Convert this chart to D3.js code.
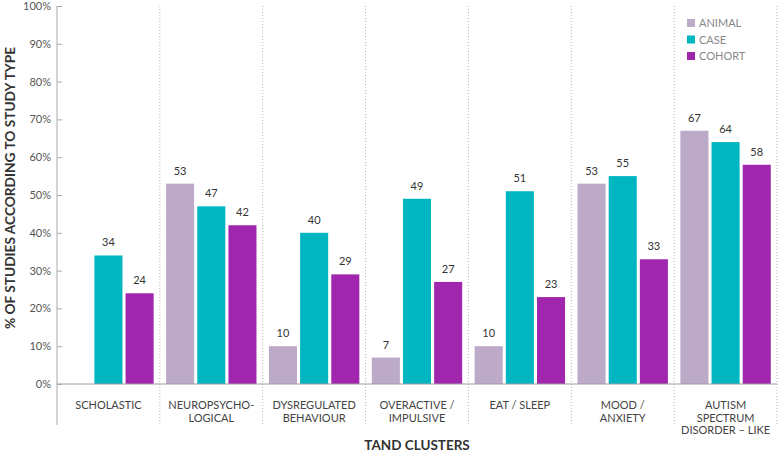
<!DOCTYPE html>
<html>
<head>
<meta charset="utf-8">
<script src="https://cdn.jsdelivr.net/npm/d3@7"></script>
<style>
  body { margin: 0; background: #fff; }
  svg text { font-family: Lato, "Open Sans", sans-serif; }
</style>
</head>
<body>
<svg id="chart" width="780" height="452"></svg>
<script>
var clusters = [
  ["SCHOLASTIC"],
  ["NEUROPSYCHO-", "LOGICAL"],
  ["DYSREGULATED", "BEHAVIOUR"],
  ["OVERACTIVE /", "IMPULSIVE"],
  ["EAT / SLEEP"],
  ["MOOD /", "ANXIETY"],
  ["AUTISM", "SPECTRUM", "DISORDER \u2013 LIKE"]
]
var studyTypes = ["ANIMAL", "CASE", "COHORT"]
var animal = [null, 53, 10, 7, 10, 53, 67]
var caseStudies = [34, 47, 40, 49, 51, 55, 64]
var cohort = [24, 42, 29, 27, 23, 33, 58]
var yTicks = [0, 10, 20, 30, 40, 50, 60, 70, 80, 90, 100]
var colors = ["#bcaac8", "#00b6c1", "#a126ae"]

var dimensions = ({
  width: 780,
  height: 452,
  margin: { top: 6, bottom: 68, right: 3, left: 57 }
})
var innerW = dimensions.width - dimensions.margin.left - dimensions.margin.right
var innerH = dimensions.height - dimensions.margin.top - dimensions.margin.bottom

var series = [animal, caseStudies, cohort]
var data = clusters.map(function (c, i) {
  return {
    key: i,
    values: studyTypes.map(function (t, j) { return { type: t, j: j, v: series[j][i] } })
  }
})

var svg = d3.select("#chart")
var g = svg.append("g")
  .attr("transform", "translate(" + dimensions.margin.left + "," + dimensions.margin.top + ")")

var xScale = d3.scaleBand()
  .domain(d3.range(clusters.length))
  .range([0, innerW])
  .padding(0)

var x1 = d3.scaleBand()
  .domain(studyTypes)
  .range([0, xScale.bandwidth()])
  .paddingInner(0.1)
  .paddingOuter(0.2)

var yScale = d3.scaleLinear()
  .domain([0, 100])
  .range([innerH, 0])

// dotted separators
g.selectAll(".sep")
  .data(d3.range(1, clusters.length + 1))
  .enter()
  .append("line")
  .attr("x1", function (d) { return d * xScale.step() })
  .attr("x2", function (d) { return d * xScale.step() })
  .attr("y1", 0)
  .attr("y2", innerH + 41)
  .attr("stroke", "#b5b5b5")
  .attr("stroke-width", 1)
  .attr("stroke-dasharray", "1,2")

// bars
var groups = g.selectAll(".grp")
  .data(data)
  .enter()
  .append("g")
  .attr("transform", function (d) { return "translate(" + xScale(d.key) + ",0)" })

var vals = groups.selectAll("g")
  .data(function (d) { return d.values.filter(function (v) { return v.v != null }) })
  .enter()
  .append("g")

vals.append("rect")
  .attr("x", function (d) { return x1(d.type) })
  .attr("y", function (d) { return yScale(d.v) })
  .attr("width", x1.bandwidth())
  .attr("height", function (d) { return innerH - yScale(d.v) })
  .attr("fill", function (d) { return colors[d.j] })

vals.append("text")
  .attr("x", function (d) { return x1(d.type) + x1.bandwidth() / 2 })
  .attr("y", function (d) { return yScale(d.v) - 9 })
  .attr("text-anchor", "middle")
  .attr("font-size", 11)
  .attr("fill", "#333")
  .text(function (d) { return d.v })

// baseline
g.append("line")
  .attr("x1", 0).attr("x2", innerW)
  .attr("y1", innerH).attr("y2", innerH)
  .attr("stroke", "#a09aa6")

// y axis
var yAxis = d3.axisLeft(yScale)
  .tickValues(yTicks)
  .tickFormat(function (d) { return d + "%" })
  .tickSize(-5)
  .tickPadding(6)
var ya = g.append("g").call(yAxis)
ya.select(".domain").remove()
ya.selectAll(".tick line").attr("stroke", "#aaa")
ya.selectAll("text").attr("font-size", 11).attr("fill", "#555")
  .style("font-family", "Lato, 'Open Sans', sans-serif")
g.append("line")
  .attr("x1", 0).attr("x2", 0)
  .attr("y1", 0).attr("y2", innerH + 41)
  .attr("stroke", "#aaa")

// x labels
var xl = g.selectAll(".xl")
  .data(clusters)
  .enter()
  .append("text")
  .attr("text-anchor", "middle")
  .attr("font-size", 11)
  .attr("fill", "#444")
  .attr("transform", function (d, i) {
    return "translate(" + (xScale(i) + xScale.bandwidth() / 2) + "," + (innerH + 25) + ")"
  })
xl.selectAll("tspan")
  .data(function (d) { return d })
  .enter()
  .append("tspan")
  .attr("x", 0)
  .attr("y", function (d, i) { return i * 12.5 })
  .text(function (d) { return d })

// axis titles
svg.append("text")
  .attr("x", dimensions.margin.left + innerW / 2)
  .attr("y", 450)
  .attr("text-anchor", "middle")
  .attr("font-size", 13.5)
  .attr("font-weight", "bold")
  .attr("fill", "#333")
  .text("TAND CLUSTERS")

svg.append("text")
  .attr("transform", "translate(15,188) rotate(-90)")
  .attr("text-anchor", "middle")
  .attr("font-size", 13.7)
  .attr("font-weight", "bold")
  .attr("fill", "#333")
  .text("% OF STUDIES ACCORDING TO STUDY TYPE")

// legend
var legend = svg.append("g").attr("transform", "translate(687,19)")
var li = legend.selectAll("g")
  .data(studyTypes)
  .enter()
  .append("g")
  .attr("transform", function (d, i) { return "translate(0," + i * 16.5 + ")" })
li.append("rect")
  .attr("width", 8).attr("height", 8)
  .attr("fill", function (d, i) { return colors[i] })
li.append("text")
  .attr("x", 12).attr("y", 8)
  .attr("font-size", 11)
  .attr("fill", "#888")
  .text(function (d) { return d })
</script>
</body>
</html>
